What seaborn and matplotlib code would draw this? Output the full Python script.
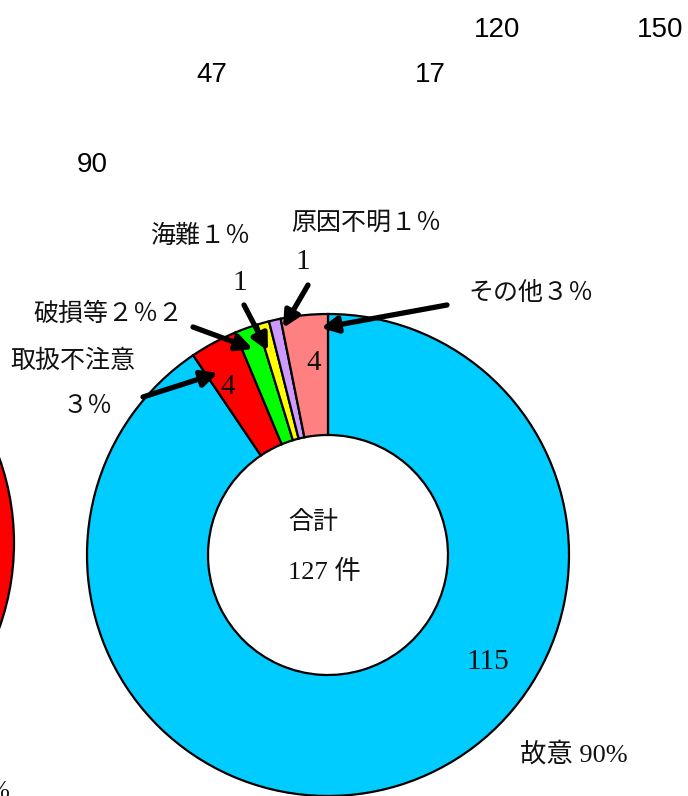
import matplotlib
matplotlib.use("Agg")
import matplotlib.pyplot as plt
import seaborn as sns

sns.set_theme(style="white")
plt.rcParams['font.family'] = ['Liberation Serif', 'Noto Sans CJK JP', 'DejaVu Sans']

# ---- data ----
categories = ["故意", "取扱不注意", "破損等", "海難", "原因不明", "その他"]
counts = [115, 4, 2, 1, 1, 4]
colors = ["#00CCFF", "#FF0000", "#00FF00", "#FFFF00", "#CC99FF", "#FF8080"]
total_label = "合計"
total_text = "127 件"
axis_numbers = ["120", "150", "47", "17", "90"]
fragment_values = [1]
fragment_colors = ["#FF0000"]

W, H = 688, 796
fig = plt.figure(figsize=(W / 100, H / 100), dpi=100)
ax = fig.add_axes([0, 0, 1, 1])


def Y(y):
    return H - y


edge = dict(edgecolor="black", linewidth=1.6)

# fragment of a neighbouring chart at the left edge
ax.pie(fragment_values, colors=fragment_colors, startangle=180,
       center=(-239, Y(543)), radius=253, wedgeprops=edge)

# main donut
ax.pie(counts, colors=colors, startangle=90, counterclock=False,
       center=(328, Y(555)), radius=241,
       wedgeprops=dict(width=121, **edge))

ax.set_xlim(0, W)
ax.set_ylim(0, H)
ax.set_aspect("auto")
ax.axis("off")

lab = dict(fontsize=18, ha="center", va="center", color="#111111")
dig = dict(fontsize=21, ha="center", va="center", color="#111111")

# labels
ax.text(200, Y(236), "海難１％", **lab)
ax.text(240, Y(283), "1", **dig)
ax.text(366, Y(223), "原因不明１％", **lab)
ax.text(303, Y(262), "1", **dig)
ax.text(531, Y(293), "その他３％", **lab)
ax.text(108, Y(314), "破損等２％２", **lab)
ax.text(73, Y(361), "取扱不注意", **lab)
ax.text(88, Y(407), "３％", **lab)
ax.text(314, Y(363), str(counts[5]), **dig)
ax.text(228, Y(387), str(counts[1]), **dig)
ax.text(488, Y(662), str(counts[0]), **dig)
ax.text(574, Y(754), "故意 90%", fontsize=19, ha="center", va="center", color="#111111")
ax.text(313, Y(523), total_label, **lab)
ax.text(324, Y(572), total_text, fontsize=19, ha="center", va="center", color="#111111")
ax.text(-1, Y(792), "%", **lab)

# top axis numbers (from another chart)
num = dict(fontsize=20, ha="center", va="center", color="black",
           family=["Liberation Sans Narrow", "Liberation Sans", "DejaVu Sans"])
num_pos = [(497, 30), (660, 30), (212, 75), (430, 75), (92, 165)]
for t, (x, y) in zip(axis_numbers, num_pos):
    ax.text(x, Y(y), t, **num)

# arrows
arrows = [((143, 397), (218, 373)),
          ((193, 327), (253, 349)),
          ((244, 305), (268, 351)),
          ((308, 285), (283, 328)),
          ((447, 305), (321, 328))]
for (x0, y0), (x1, y1) in arrows:
    ax.annotate("", xy=(x1, Y(y1)), xytext=(x0, Y(y0)),
                arrowprops=dict(arrowstyle="-|>", lw=3.8, color="black",
                                mutation_scale=24, shrinkA=0, shrinkB=0))

fig.savefig("out.png", dpi=100)
